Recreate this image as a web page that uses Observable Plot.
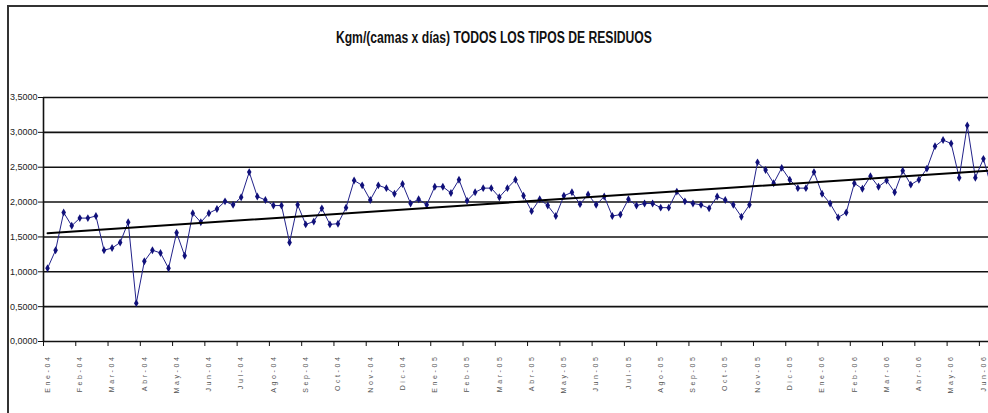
<!DOCTYPE html>
<html><head><meta charset="utf-8">
<script src="https://cdn.jsdelivr.net/npm/d3@7"></script>
<script src="https://cdn.jsdelivr.net/npm/@observablehq/plot@0.6"></script>
<style>
html,body{margin:0;padding:0;background:#fff;overflow:hidden;width:988px;height:413px}
#frame{position:absolute;left:7px;top:5px;width:1000px;height:420px;border-left:2px solid #333;border-top:2px solid #333}
#title{position:absolute;left:0;top:29px;width:988px;text-align:center}
#title span{display:inline-block;transform:scaleX(0.76);transform-origin:center;font-family:"Liberation Sans Narrow","Arial Narrow","Liberation Sans",Arial,sans-serif;font-weight:bold;font-size:16px;color:#111;white-space:nowrap}
#chart{position:absolute;left:0;top:60px}
#chart g[aria-label="x-axis tick label"] text{letter-spacing:2.6px}
</style></head><body>
<div id="frame"></div>
<div id="title"><span>Kgm/(camas x días) TODOS LOS TIPOS DE RESIDUOS</span></div>
<div id="chart"></div>
<script>
// Weekly values (kg / (beds x days))
const values = [
  1.05, 1.31, 1.85, 1.66, 1.77, 1.77, 1.80, 1.31, 1.34, 1.42,
  1.71, 0.55, 1.15, 1.31, 1.27, 1.05, 1.56, 1.23, 1.84, 1.71,
  1.84, 1.90, 2.01, 1.96, 2.07, 2.43, 2.08, 2.03, 1.95, 1.95,
  1.42, 1.96, 1.68, 1.72, 1.91, 1.68, 1.69, 1.92, 2.31, 2.24,
  2.03, 2.24, 2.20, 2.12, 2.26, 1.98, 2.04, 1.96, 2.22, 2.22,
  2.13, 2.32, 2.02, 2.14, 2.20, 2.20, 2.07, 2.20, 2.32, 2.09,
  1.87, 2.04, 1.95, 1.80, 2.09, 2.14, 1.97, 2.11, 1.96, 2.08,
  1.80, 1.82, 2.04, 1.95, 1.98, 1.98, 1.92, 1.92, 2.15, 2.01,
  1.98, 1.96, 1.91, 2.08, 2.03, 1.96, 1.79, 1.96, 2.57, 2.46,
  2.27, 2.49, 2.32, 2.20, 2.20, 2.43, 2.12, 1.98, 1.78, 1.85,
  2.27, 2.19, 2.37, 2.22, 2.31, 2.14, 2.45, 2.25, 2.32, 2.48,
  2.80, 2.89, 2.84, 2.35, 3.10, 2.35, 2.62, 2.21
];
// Category labels shown every 4 weeks
const tickLabels = [
  "Ene-04","Feb-04","Mar-04","Abr-04","May-04","Jun-04","Jul-04","Ago-04","Sep-04","Oct-04",
  "Nov-04","Dic-04","Ene-05","Feb-05","Mar-05","Abr-05","May-05","Jun-05","Jul-05","Ago-05",
  "Sep-05","Oct-05","Nov-05","Dic-05","Ene-06","Feb-06","Mar-06","Abr-06","May-06","Jun-06"
];
const yTicks = [0, 0.5, 1, 1.5, 2, 2.5, 3, 3.5];
const labelEvery = 4;
const visibleCategories = 117.13;

const data = values.map((v, i) => ({i, v}));
const labelPos = tickLabels.map((_, k) => k * labelEvery);
const labelMap = new Map(labelPos.map((p, k) => [p, tickLabels[k]]));
const boundaryTicks = d3.range(-0.5, visibleCategories - 0.5, labelEvery);

const chart = Plot.plot({
  width: 988,
  height: 353,
  marginLeft: 43,
  marginRight: 0,
  marginTop: 37,
  marginBottom: 72,
  style: {fontFamily: '"Liberation Sans Narrow","Arial Narrow",sans-serif', background: "transparent", overflow: "hidden"},
  x: {type: "linear", domain: [-0.5, visibleCategories - 0.5], axis: null},
  y: {domain: [0, 3.5], axis: null},
  marks: [
    Plot.ruleY(yTicks, {stroke: "#111", strokeWidth: 1.6}),
    Plot.ruleX([-0.5], {stroke: "#111", strokeWidth: 1.6}),
    Plot.axisY({ticks: yTicks, tickFormat: d => d.toFixed(4).replace(".", ","), tickSize: 5, tickPadding: 1, fontSize: 9, fill: "#222", stroke: "#111", label: null}),
    Plot.axisX({ticks: boundaryTicks, tickFormat: () => "", tickSize: 5, stroke: "#111", label: null}),
    Plot.axisX({ticks: labelPos, tickFormat: d => labelMap.get(d), tickSize: 0, tickPadding: 13, tickRotate: -90, fontSize: 7, fill: "#555", label: null}),
    Plot.line(data, {x: "i", y: "v", stroke: "#22228a", strokeWidth: 1, clip: true}),
    Plot.dot(data, {x: "i", y: "v", symbol: "diamond", r: 2.4, fill: "#10107a", stroke: null, clip: true}),
    Plot.linearRegressionY(data, {x: "i", y: "v", ci: 0, stroke: "#000", strokeWidth: 2, clip: true})
  ]
});
document.getElementById("chart").appendChild(chart);
</script>
</body></html>
